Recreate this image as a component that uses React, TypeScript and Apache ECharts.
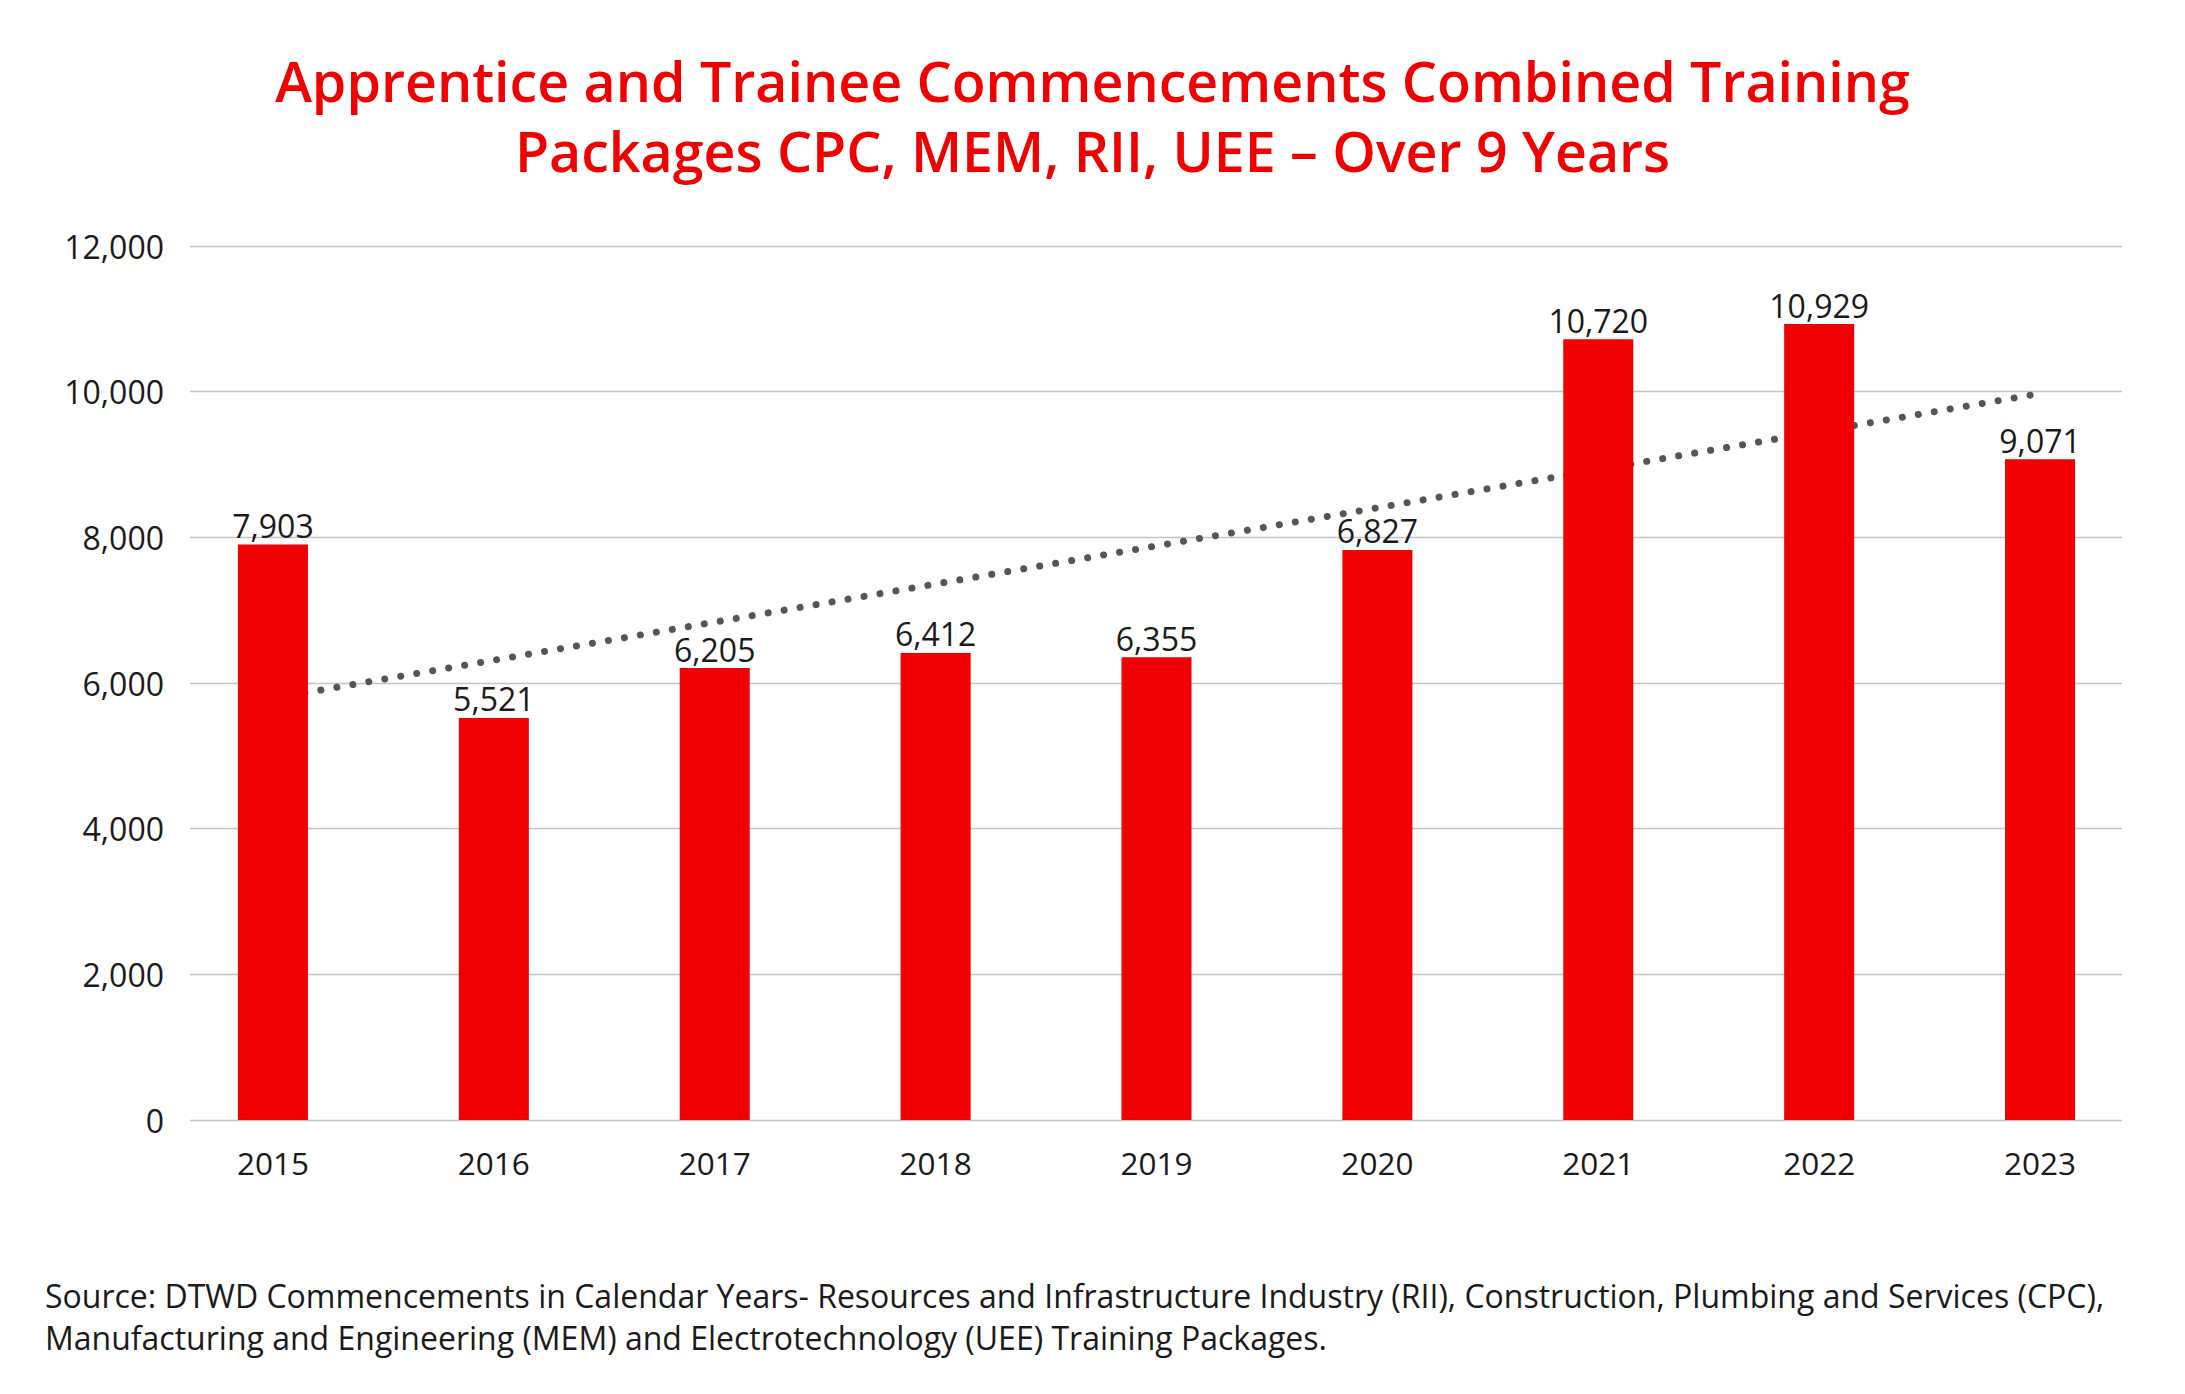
import React, { useEffect, useRef } from "react";
import * as echarts from "echarts";

const years = ["2015", "2016", "2017", "2018", "2019", "2020", "2021", "2022", "2023"];
const commencements = [7903, 5521, 6205, 6412, 6355, 7827, 10720, 10929, 9071];
const barLabels = ["7,903", "5,521", "6,205", "6,412", "6,355", "6,827", "10,720", "10,929", "9,071"];
const trendStart = 5790;
const trendEnd = 9975;
const yTicks = { min: 0, max: 12000, interval: 2000 };

const titleText =
  "Apprentice and Trainee Commencements Combined Training\nPackages CPC, MEM, RII, UEE \u2013 Over 9 Years";
const sourceText =
  "Source: DTWD Commencements in Calendar Years- Resources and Infrastructure Industry (RII), Construction, Plumbing and Services (CPC),\nManufacturing and Engineering (MEM) and Electrotechnology (UEE) Training Packages.";

const FONT = "'Open Sans', Lato, sans-serif";
const RED = "#F00000";

export default function App() {
  const ref = useRef<HTMLDivElement>(null);
  useEffect(() => {
    document.body.style.margin = "0";
    if (!ref.current) return;
    const chart = echarts.init(ref.current, undefined, { renderer: "svg" });
    chart.setOption({
      animation: false,
      backgroundColor: "#ffffff",
      textStyle: { fontFamily: FONT },
      title: [
        {
          text: titleText,
          left: "center",
          top: 40,
          textStyle: {
            fontFamily: FONT,
            fontSize: 55.5,
            fontWeight: 600,
            color: RED,
            lineHeight: 70,
          },
        },
        {
          text: sourceText,
          left: 40,
          top: 1269,
          textStyle: {
            fontFamily: FONT,
            fontSize: 32,
            fontWeight: 400,
            color: "#1a1a1a",
            lineHeight: 42,
          },
        },
      ],
      grid: [
        { left: 190, width: 1932, top: 246, height: 874 },
        { left: 162.5, width: 1988, top: 246, height: 874 },
      ],
      xAxis: [
        { type: "value", gridIndex: 0, show: false, min: 0, max: 1 },
        {
          type: "category",
          gridIndex: 1,
          data: years,
          axisLine: { show: false },
          axisTick: { show: false },
          axisLabel: { fontFamily: FONT, fontSize: 31.5, color: "#1a1a1a", margin: 26 },
        },
      ],
      yAxis: [
        {
          type: "value",
          gridIndex: 0,
          min: yTicks.min,
          max: yTicks.max,
          interval: yTicks.interval,
          axisLine: { show: false },
          axisTick: { show: false },
          splitLine: { lineStyle: { color: "#c4c4c4", width: 1.3 } },
          axisLabel: {
            fontFamily: FONT,
            fontSize: 32,
            color: "#1a1a1a",
            margin: 26,
            formatter: (v: number) => v.toLocaleString("en-US"),
          },
        },
        {
          type: "value",
          gridIndex: 1,
          min: yTicks.min,
          max: yTicks.max,
          interval: yTicks.interval,
          show: false,
          splitLine: { show: false },
        },
      ],
      series: [
        {
          type: "line",
          xAxisIndex: 1,
          yAxisIndex: 1,
          z: 1,
          data: [
            [years[0], trendStart],
            [years[years.length - 1], trendEnd],
          ],
          symbol: "none",
          lineStyle: { color: "#555555", width: 7, type: [0.01, 16.2], cap: "round" },
          silent: true,
        },
        {
          type: "bar",
          xAxisIndex: 1,
          yAxisIndex: 1,
          z: 2,
          data: commencements,
          barWidth: "31.7%",
          itemStyle: { color: RED },
          label: {
            show: true,
            position: "top",
            distance: 3,
            fontFamily: FONT,
            fontSize: 32,
            color: "#1a1a1a",
            formatter: (p: any) => barLabels[p.dataIndex],
          },
        },
      ],
    });
    return () => chart.dispose();
  }, []);
  return <div ref={ref} style={{ width: 2185, height: 1394 }} />;
}
